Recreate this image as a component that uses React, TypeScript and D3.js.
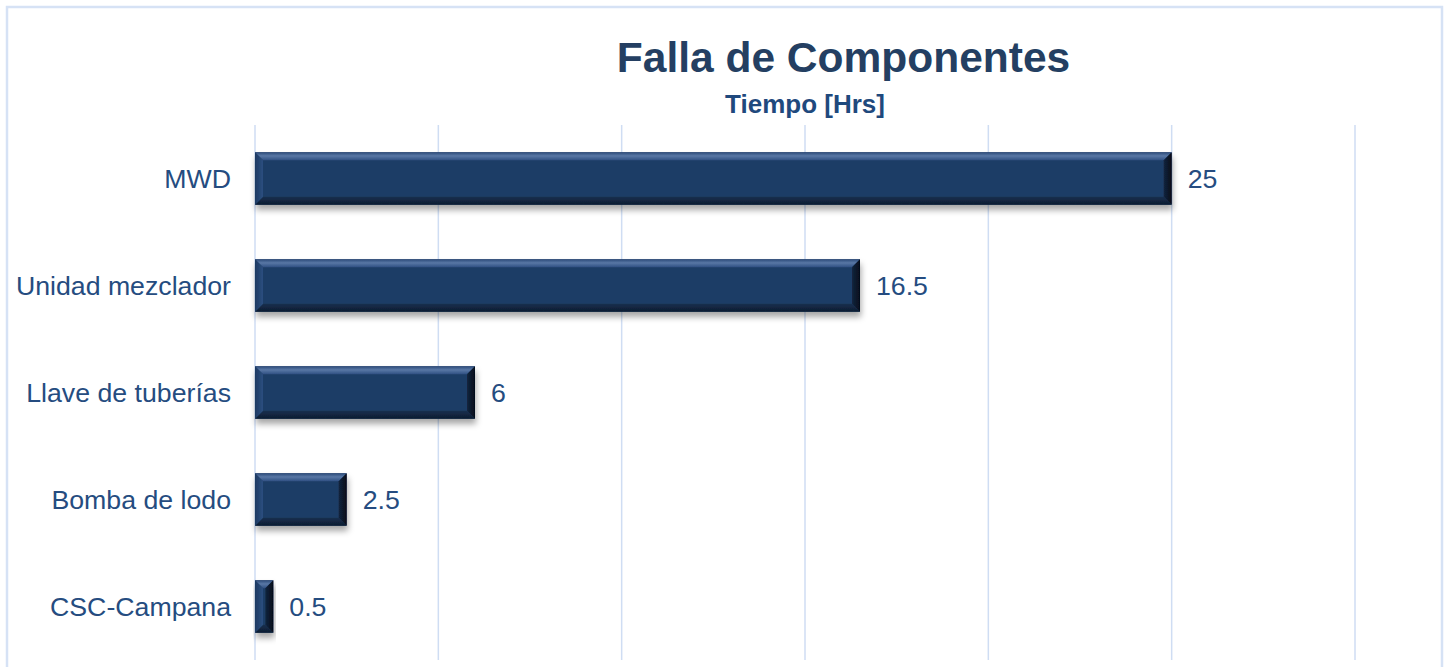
import React from "react";
import * as d3 from "d3";

const categories = ["MWD", "Unidad mezclador", "Llave de tuberías", "Bomba de lodo", "CSC-Campana"];
const hours = [25, 16.5, 6, 2.5, 0.5];
const gridTicks = [0, 5, 10, 15, 20, 25, 30];

const W = 1449;
const H = 667;
const margin = { top: 125, right: 94, bottom: 7, left: 255 };

const font = "'Liberation Sans', Arial, sans-serif";

const Bar = ({ x0, x1, y0, y1 }: { x0: number; x1: number; y0: number; y1: number }) => {
  const b = Math.min(8, (x1 - x0) / 2, (y1 - y0) / 2);
  const pts = (p: number[][]) => p.map((d) => d.join(",")).join(" ");
  return (
    <g filter="url(#barShadow)">
      <rect x={x0} y={y0} width={x1 - x0} height={y1 - y0} fill="#1f3d66" />
      <polygon
        points={pts([[x0, y0], [x1, y0], [x1 - b, y0 + b], [x0 + b, y0 + b]])}
        fill="url(#bevelTop)"
      />
      <polygon
        points={pts([[x0, y1], [x1, y1], [x1 - b, y1 - b], [x0 + b, y1 - b]])}
        fill="url(#bevelBottom)"
      />
      <polygon
        points={pts([[x0, y0], [x0 + b, y0 + b], [x0 + b, y1 - b], [x0, y1]])}
        fill="url(#bevelLeft)"
      />
      <polygon
        points={pts([[x1, y0], [x1 - b, y0 + b], [x1 - b, y1 - b], [x1, y1]])}
        fill="url(#bevelRight)"
      />
    </g>
  );
};

export default function App() {
  const x = d3
    .scaleLinear()
    .domain([0, 30])
    .range([margin.left, W - margin.right]);

  const y = d3
    .scaleBand<string>()
    .domain(categories)
    .range([margin.top, 660])
    .paddingInner(0.51)
    .paddingOuter(0.255);

  const bw = y.bandwidth();

  return (
    <svg
      width={W}
      height={H}
      style={{ position: "absolute", left: 0, top: 0, background: "#fff" }}
    >
      <defs>
        <linearGradient id="bevelTop" x1="0" y1="0" x2="0" y2="1">
          <stop offset="0%" stopColor="#2c4b78" />
          <stop offset="45%" stopColor="#5877a5" />
          <stop offset="100%" stopColor="#2f5082" />
        </linearGradient>
        <linearGradient id="bevelBottom" x1="0" y1="1" x2="0" y2="0">
          <stop offset="0%" stopColor="#0d1c31" />
          <stop offset="100%" stopColor="#18304f" />
        </linearGradient>
        <linearGradient id="bevelLeft" x1="0" y1="0" x2="1" y2="0">
          <stop offset="0%" stopColor="#1d3a62" />
          <stop offset="100%" stopColor="#2d4f80" />
        </linearGradient>
        <linearGradient id="bevelRight" x1="1" y1="0" x2="0" y2="0">
          <stop offset="0%" stopColor="#050d19" />
          <stop offset="100%" stopColor="#13253f" />
        </linearGradient>
        <filter id="barShadow" x="-10%" y="-20%" width="120%" height="160%">
          <feDropShadow dx="1" dy="5" stdDeviation="3" floodColor="#000" floodOpacity="0.35" />
        </filter>
      </defs>

      <rect x={7} y={7} width={1435} height={700} fill="none" stroke="#d6e2f5" strokeWidth={2.5} />

      {gridTicks.map((t) => (
        <line
          key={t}
          x1={x(t)}
          x2={x(t)}
          y1={margin.top}
          y2={660}
          stroke="#cfddf3"
          strokeWidth={1.5}
        />
      ))}

      <text
        x={843.5}
        y={72}
        textAnchor="middle"
        fontFamily={font}
        fontSize={42.5}
        fontWeight="bold"
        fill="#243f62"
      >
        Falla de Componentes
      </text>
      <text
        x={805}
        y={113}
        textAnchor="middle"
        fontFamily={font}
        fontSize={26}
        fontWeight="bold"
        fill="#1f497d"
      >
        Tiempo [Hrs]
      </text>

      {categories.map((c, i) => {
        const y0 = y(c)!;
        const cy = y0 + bw / 2;
        return (
          <g key={c}>
            <Bar x0={x(0)} x1={x(hours[i])} y0={y0} y1={y0 + bw} />
            <text
              x={231}
              y={cy + 9}
              textAnchor="end"
              fontFamily={font}
              fontSize={26.7}
              fill="#254c80"
            >
              {c}
            </text>
            <text
              x={x(hours[i]) + 16}
              y={cy + 9}
              fontFamily={font}
              fontSize={26.7}
              fill="#254c80"
            >
              {hours[i]}
            </text>
          </g>
        );
      })}
    </svg>
  );
}
